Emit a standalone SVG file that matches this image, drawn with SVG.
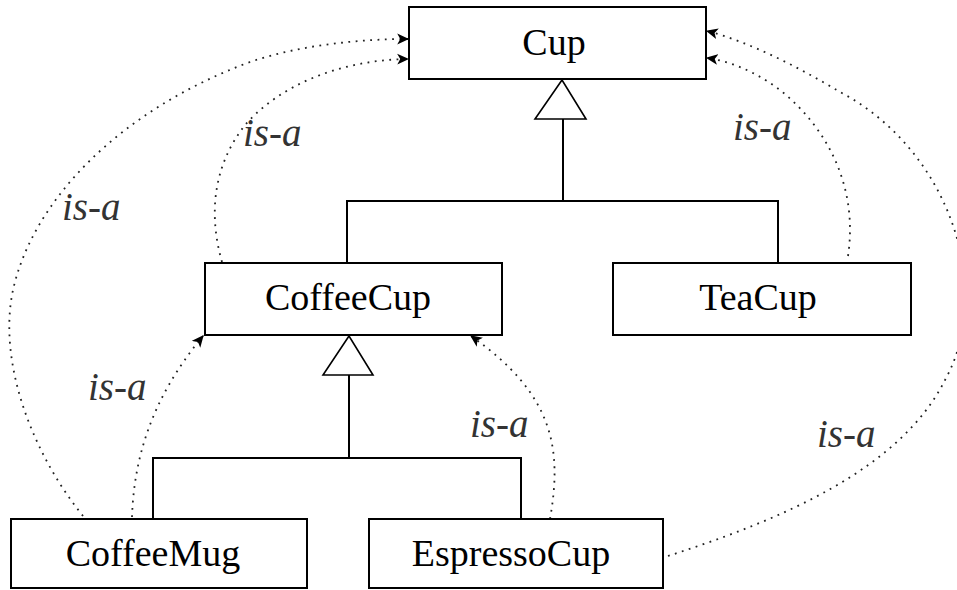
<svg xmlns="http://www.w3.org/2000/svg" width="957" height="590" viewBox="0 0 957 590">
<style>
  .box { fill: #ffffff; stroke: #000000; stroke-width: 2; }
  .name { font-family: "Liberation Serif", "Times New Roman", serif; font-size: 38px; fill: #000000; text-anchor: middle; }
  .line { fill: none; stroke: #000000; stroke-width: 2; }
  .tri { fill: #ffffff; stroke: #000000; stroke-width: 1.6; }
  .isa { fill: none; stroke: #222222; stroke-width: 1.8; stroke-dasharray: 1.8 5.5; }
  .lbl { font-family: "Liberation Serif", "Times New Roman", serif; font-style: italic; font-size: 39px; fill: #333333; }
</style>
<defs>
  <marker id="arr" markerUnits="userSpaceOnUse" markerWidth="12" markerHeight="12" viewBox="0 0 10 10" refX="9" refY="5" orient="auto">
    <path d="M0,0.5 L10,5 L0,9.5 L2.5,5 Z" fill="#000000"/>
  </marker>
</defs>
<rect width="957" height="590" fill="#ffffff"/>

<g id="connectors">
  <!-- generalization tree -->
  <path class="line" d="M563,119 V201 M347,263 V201 H778 V263"/>
  <polygon class="tri" points="562,80 535,119 586,119"/>
  <path class="line" d="M349,375 V458 M153,519 V458 H521 V519"/>
  <polygon class="tri" points="349,336 323,375 373,375"/>
  <!-- is-a dotted connectors -->
  <path class="isa" marker-end="url(#arr)" d="M83,516 C30,450 -2,360 13,290 C33,200 120,110 250,62 C300,45 360,39 408,39"/>
  <path class="isa" marker-end="url(#arr)" d="M222,262 C210,220 210,170 245,125 C280,85 340,60 408,59"/>
  <path class="isa" marker-end="url(#arr)" d="M848,256 C858,190 830,130 780,90 C760,75 735,62 707,58"/>
  <path class="isa" marker-end="url(#arr)" d="M668,556 C780,520 900,470 945,380 C995,290 950,150 840,92 C800,68 750,42 707,31"/>
  <path class="isa" marker-end="url(#arr)" d="M132,517 C134,460 150,400 203,336"/>
  <path class="isa" marker-end="url(#arr)" d="M550,519 C562,450 555,395 471,336"/>
  <!-- labels -->
  <text class="lbl" x="243" y="146">is-a</text>
  <text class="lbl" x="733" y="140">is-a</text>
  <text class="lbl" x="62" y="220">is-a</text>
  <text class="lbl" x="88" y="400">is-a</text>
  <text class="lbl" x="470" y="437">is-a</text>
  <text class="lbl" x="817" y="447">is-a</text>
</g>

<g id="cup">
  <rect class="box" x="409" y="7" width="297" height="72"/>
  <text class="name" x="554" y="55">Cup</text>
</g>
<g id="coffeecup">
  <rect class="box" x="205" y="263" width="297" height="72"/>
  <text class="name" x="348" y="310">CoffeeCup</text>
</g>
<g id="teacup">
  <rect class="box" x="613" y="263" width="298" height="72"/>
  <text class="name" x="758" y="310">TeaCup</text>
</g>
<g id="coffeemug">
  <rect class="box" x="11" y="519" width="296" height="69"/>
  <text class="name" x="153" y="566">CoffeeMug</text>
</g>
<g id="espressocup">
  <rect class="box" x="369" y="519" width="294" height="69"/>
  <text class="name" x="511" y="566">EspressoCup</text>
</g>
</svg>
